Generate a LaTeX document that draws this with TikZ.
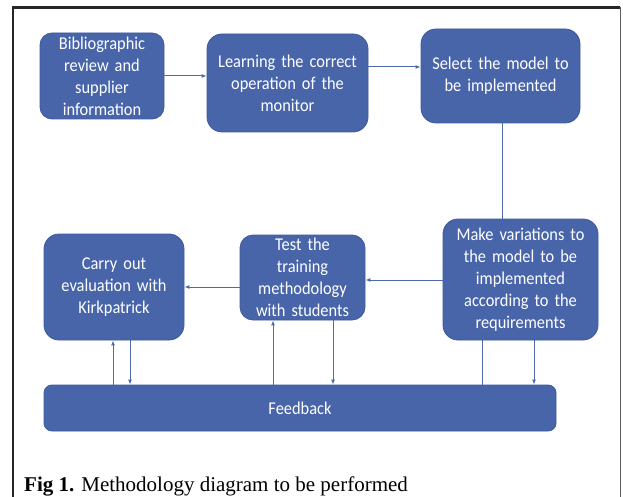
\documentclass[tikz,border=0pt]{standalone}
\usepackage{fontspec}
\setmainfont{Liberation Serif}
\newfontfamily\boxfont[FakeStretch=0.91]{Carlito}
\usetikzlibrary{arrows.meta}
\definecolor{boxblue}{RGB}{72,101,170}
\definecolor{boxedge}{RGB}{62,90,158}
\definecolor{linkblue}{RGB}{78,106,168}
\definecolor{framedark}{RGB}{38,38,38}
\definecolor{framegray}{RGB}{95,95,95}
\tikzset{
  stepbox/.style={draw=boxedge, line width=0.8pt, fill=boxblue, rounded corners=15pt,
    text=white, align=center, inner sep=0pt,
    font=\boxfont\fontsize{18}{22}\selectfont},
  link/.style={draw=linkblue, line width=1pt},
  arr/.style={link, -{Latex[length=5pt,width=4pt]}},
}
\begin{document}
\begin{tikzpicture}[x=1pt, y=-1pt]
  \useasboundingbox (0,0) rectangle (623,497);
  \fill[white] (0,0) rectangle (623,497);

  % outer frame (open at the bottom)
  \draw[framedark, line width=2.5pt] (13,497) -- (13,7.5) -- (620,7.5);
  \draw[framegray, line width=1.5pt] (620.5,7.5) -- (620.5,497);

  % process steps
  \node[stepbox, rounded corners=12pt, minimum width=124pt, minimum height=86pt, text width=120pt]
    (b1) at (102,76) {Bibliographic\\review and\\supplier\\information};
  \node[stepbox, minimum width=161pt, minimum height=98pt, text width=155pt]
    (b2) at (287.5,83) {Learning the correct\\operation of the\\monitor};
  \node[stepbox, minimum width=159pt, minimum height=94pt, text width=155pt]
    (b3) at (500.5,76) {Select the model to\\be implemented};
  \node[stepbox, minimum width=155pt, minimum height=121pt, text width=150pt]
    (b4) at (520.5,279.5) {Make variations to\\the model to be\\implemented\\according to the\\requirements};
  \node[stepbox, rounded corners=13pt, minimum width=125pt, minimum height=85pt, text width=122pt]
    (b5) at (302.5,277.5) {Test the\\training\\methodology\\with students};
  \node[stepbox, minimum width=140pt, minimum height=106pt, text width=135pt]
    (b6) at (114,287) {Carry out\\evaluation with\\Kirkpatrick};
  \node[stepbox, rounded corners=8pt, minimum width=512pt, minimum height=46pt]
    (fb) at (300,408) {Feedback};

  % main flow
  \draw[arr] (b1.east) -- (b1.east -| b2.west);
  \draw[arr] (b2.east |- 0,67) -- (b3.west |- 0,67);
  \draw[link] (502,0 |- b3.south) -- (502,0 |- b4.north);
  \draw[arr] (b4.west |- 0,280) -- (b5.east |- 0,280);
  \draw[arr] (b5.west |- b6.east) -- (b6.east);

  % feedback loops
  \draw[arr] (113,0 |- fb.north) -- (113,0 |- b6.south);
  \draw[arr] (130,0 |- b6.south) -- (130,0 |- fb.north);
  \draw[arr] (273,0 |- fb.north) -- (273,0 |- b5.south);
  \draw[arr] (333,0 |- b5.south) -- (333,0 |- fb.north);
  \draw[link] (482,0 |- b4.south) -- (482,0 |- fb.north);
  \draw[arr] (534,0 |- b4.south) -- (534,0 |- fb.north);

  % caption
  \node[anchor=base west, inner sep=0pt, font=\fontsize{21}{24}\selectfont]
    (cap) at (24,491) {\textbf{Fig 1.} Methodology diagram to be performed};
\end{tikzpicture}
\end{document}
